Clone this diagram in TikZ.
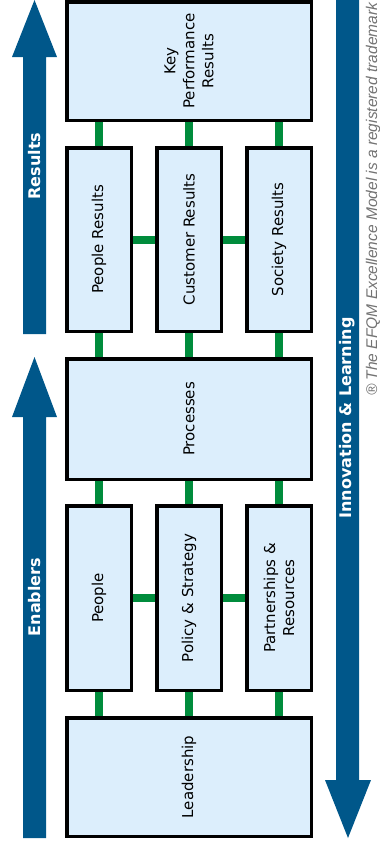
\documentclass[tikz,border=0pt]{standalone}
\usepackage{fontspec}
\setmainfont{DejaVu Sans}
\newfontfamily\notefont{Liberation Sans}
\usepackage{tikz}
\usetikzlibrary{positioning, backgrounds}

\definecolor{efqmblue}{RGB}{0,87,138}
\definecolor{critfill}{RGB}{220,238,252}
\definecolor{linkgreen}{RGB}{0,140,60}

\tikzset{
  crit/.style={draw=black, line width=3.5pt, fill=critfill, inner sep=0pt},
  smallcrit/.style={crit, minimum width=64.5pt, minimum height=183.5pt},
  bigcrit/.style={crit, minimum width=244.5pt, minimum height=118.5pt},
  critlabel/.style={rotate=90, align=center, inner sep=0pt, font=\fontsize{15}{19}\selectfont},
  link/.style={draw=linkgreen, line width=8pt},
  bar/.style={fill=efqmblue},
  barlabel/.style={rotate=90, text=white, inner sep=0pt, font=\bfseries\fontsize{16}{19}\selectfont}
}

\begin{document}
\begin{tikzpicture}[x=1pt, y=-1pt]
  \useasboundingbox (0,0) rectangle (380,847);

  % Die drei blauen Pfeile
  \fill[bar] (23,334) -- (23,57) -- (12,57) -- (34.5,0) -- (57,57) -- (46,57) -- (46,334) -- cycle;
  \fill[bar] (23,838) -- (23,417) -- (12,417) -- (34.5,357) -- (57,417) -- (46,417) -- (46,838) -- cycle;
  \fill[bar] (336,0) -- (336,780) -- (325,780) -- (348,838) -- (371,780) -- (359,780) -- (359,0) -- cycle;
  \node[barlabel] (res) at (34.5,166) {Results};
  \node[barlabel] (ena) at (34.5,597) {Enablers};
  \node[barlabel] (inno) at (347.5,418) {Innovation \& Learning};

  % Die Kriterien
  \node[bigcrit, label={[critlabel]center:Key\\Performance\\Results}] (kpr) at (189,61) {};
  \node[smallcrit, label={[critlabel]center:People Results}] (pr) at (99,239.5) {};
  \node[smallcrit, label={[critlabel]center:Customer Results}] (cr) at (189,239.5) {};
  \node[smallcrit, label={[critlabel]center:Society Results}] (sr) at (279,239.5) {};
  \node[bigcrit, minimum height=120.5pt, label={[critlabel]center:Processes}] (proc) at (189,419) {};
  \node[smallcrit, minimum height=184.5pt, label={[critlabel]center:People}] (pe) at (99,598) {};
  \node[smallcrit, minimum height=184.5pt, label={[critlabel]center:Policy \& Strategy}] (ps) at (189,598) {};
  \node[smallcrit, minimum height=184.5pt, label={[critlabel]center:Partnerships \&\\Resources}] (pa) at (279,598) {};
  \node[bigcrit, label={[critlabel]center:Leadership}] (lead) at (189,777) {};

  % Gruene Verbindungen hinter den Kaesten
  \begin{scope}[on background layer]
    \foreach \a/\b in {pr/kpr, cr/kpr, sr/kpr, pr/proc, cr/proc, sr/proc,
                       pe/proc, ps/proc, pa/proc, pe/lead, ps/lead, pa/lead}
      \draw[link] (\a) -- (\a |- \b);
    \draw[link] (pr) -- (cr) -- (sr);
    \draw[link] (pe) -- (ps) -- (pa);
  \end{scope}

  % Hinweis am rechten Rand
  \node[rotate=90, anchor=base west, inner sep=0pt, text=black!55,
        font=\notefont\itshape\fontsize{15.5}{18}\selectfont] (tm) at (377,396)
        {® The EFQM Excellence Model is a registered trademark};
\end{tikzpicture}
\end{document}
